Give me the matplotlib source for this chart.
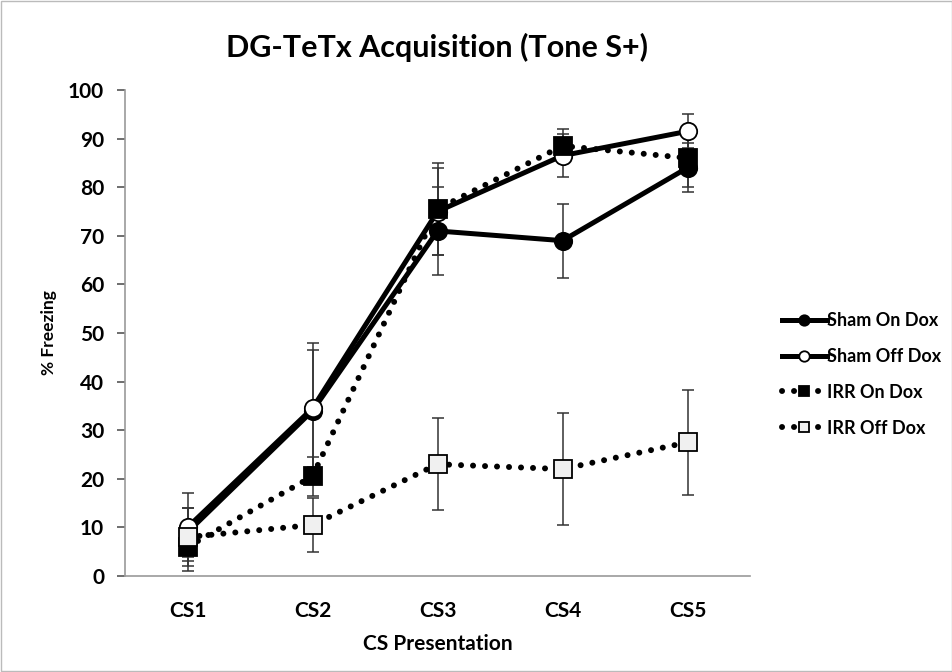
"""DG-TeTx acquisition: % freezing across CS presentations."""
import matplotlib
matplotlib.use("Agg")
import matplotlib.pyplot as plt
import numpy as np

plt.rcParams["font.family"] = ["Lato", "DejaVu Sans"]

categories = ["CS1", "CS2", "CS3", "CS4", "CS5"]

sham_on = [9, 34, 71, 69, 84]
sham_on_err = [5, 14, 9, 7.6, 5]
sham_off = [10, 34.5, 75, 86.5, 91.5]
sham_off_err = [7, 12, 9, 4.5, 3.5]
irr_on = [6, 20.5, 75.5, 88.5, 86]
irr_on_err = [5, 4, 9.5, 3.5, 6]
irr_off = [8, 10.5, 23, 22, 27.5]
irr_off_err = [6, 5.6, 9.5, 11.6, 10.8]

x = np.arange(len(categories))

fig = plt.figure(figsize=(9.53, 6.72), dpi=100)
ax = fig.add_axes([125 / 953, 1 - 576 / 672, 625 / 953, 486 / 672])

dotted = (0, (0.01, 2.0))
series = [
    ("Sham On Dox", sham_on, sham_on_err, "-", 3.6, "o", "black"),
    ("Sham Off Dox", sham_off, sham_off_err, "-", 3.6, "o", "white"),
    ("IRR On Dox", irr_on, irr_on_err, dotted, 4.3, "s", "black"),
    ("IRR Off Dox", irr_off, irr_off_err, dotted, 4.3, "s", "#f0f0f0"),
]

for name, vals, err, ls, lw, mk, fc in series:
    ax.errorbar(x, vals, yerr=err, fmt="none", ecolor="#333333", elinewidth=1.1,
                capsize=4.5, capthick=1.1, zorder=2)
for name, vals, err, ls, lw, mk, fc in series:
    ax.plot(x, vals, linestyle=ls, color="black", lw=lw, dash_capstyle="round",
            marker=mk, markersize=12.5, markerfacecolor=fc, markeredgecolor="black",
            markeredgewidth=1.3, label=name, zorder=3)

ax.set_xlim(-0.5, 4.5)
ax.set_ylim(0, 100)
ax.set_yticks(range(0, 101, 10))
ax.set_xticks(x)
ax.set_xticklabels(categories)
for s in ("top", "right"):
    ax.spines[s].set_visible(False)
for s in ("left", "bottom"):
    ax.spines[s].set_color("#999999")
    ax.spines[s].set_linewidth(1.2)
ax.tick_params(axis="y", direction="out", length=6, width=1.2, color="#555555",
               labelsize=15, pad=9)
ax.tick_params(axis="x", length=0, labelsize=15, pad=18)
for lbl in ax.get_xticklabels() + ax.get_yticklabels():
    lbl.set_fontweight("bold")

ax.set_title("DG-TeTx Acquisition (Tone S+)", fontsize=22, fontweight="bold", pad=24)
ax.set_xlabel("CS Presentation", fontsize=15, fontweight="bold", labelpad=9)
ax.set_ylabel("% Freezing", fontsize=12.5, fontweight="bold", labelpad=8)

ax.legend(loc="center left", bbox_to_anchor=(1.025, 0.415), frameon=False,
          handlelength=2.5, handletextpad=0.0, labelspacing=1.05, markerscale=0.6,
          prop={"weight": "bold", "size": 13})

fig.patches.append(plt.Rectangle((0.001, 0.001), 0.998, 0.998, transform=fig.transFigure,
                                 fill=False, edgecolor="#bbbbbb", lw=1))
fig.savefig("out.png", dpi=100)
